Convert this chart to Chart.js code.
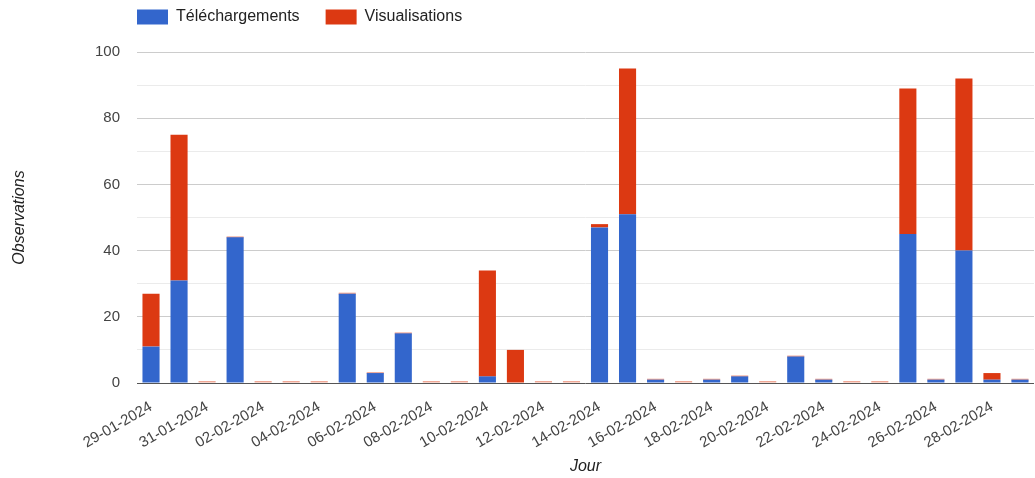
<!DOCTYPE html>
<html>
<head>
<meta charset="utf-8">
<script src="https://cdn.jsdelivr.net/npm/chart.js@4.4.1/dist/chart.umd.min.js"></script>
<style>
html,body{margin:0;padding:0;background:#fff;overflow:hidden;}
#wrap{width:1035px;height:478px;position:relative;}
</style>
</head>
<body>
<div id="wrap"><canvas id="c"></canvas></div>
<script>
const days = [
  '29-01-2024','30-01-2024','31-01-2024','01-02-2024','02-02-2024','03-02-2024','04-02-2024','05-02-2024',
  '06-02-2024','07-02-2024','08-02-2024','09-02-2024','10-02-2024','11-02-2024','12-02-2024','13-02-2024',
  '14-02-2024','15-02-2024','16-02-2024','17-02-2024','18-02-2024','19-02-2024','20-02-2024','21-02-2024',
  '22-02-2024','23-02-2024','24-02-2024','25-02-2024','26-02-2024','27-02-2024','28-02-2024','29-02-2024'
];
const telechargements = [11,31,0,44,0,0,0,27,3,15,0,0,2,0,0,0,47,51,1,0,1,2,0,8,1,0,0,45,1,40,1,1];
const visualisations  = [16,44,0,0,0,0,0,0,0,0,0,0,32,10,0,0,1,44,0,0,0,0,0,0,0,0,0,44,0,52,2,0];
const yTickLabels = [0,20,40,60,80,100];
const seriesNames = ['Téléchargements','Visualisations'];

const FONT = '"Liberation Sans", Arial, sans-serif';

const legendShift = {
  id: 'legendShift',
  afterLayout(chart) {
    const lg = chart.legend;
    if (!lg) return;
    const pad = lg.options.labels.padding;
    const dx = chart.chartArea.left - pad - lg.left;
    lg.left += dx; lg.right += dx;
    lg.top -= 17; lg.bottom -= 17;
  }
};

new Chart(document.getElementById('c'), {
  type: 'bar',
  data: {
    labels: days,
    datasets: [
      {
        label: seriesNames[0],
        data: telechargements,
        backgroundColor: '#3366cc',
        borderWidth: 0,
        categoryPercentage: 1,
        barPercentage: 0.61
      },
      {
        label: seriesNames[1],
        data: visualisations,
        backgroundColor: (ctx) => ctx.raw === 0 ? '#f0a896' : '#dc3912',
        borderWidth: 0,
        minBarLength: 2,
        categoryPercentage: 1,
        barPercentage: 0.61
      }
    ]
  },
  options: {
    responsive: true,
    maintainAspectRatio: false,
    animation: false,
    layout: { padding: { right: 1 } },
    plugins: {
      tooltip: { enabled: false },
      legend: {
        position: 'top',
        align: 'start',
        labels: {
          boxWidth: 31,
          boxHeight: 15,
          padding: 26,
          color: '#222',
          font: { family: FONT, size: 16 },
          generateLabels: (chart) => chart.data.datasets.map((ds, i) => ({
            text: ds.label,
            fillStyle: i === 0 ? '#3366cc' : '#dc3912',
            strokeStyle: i === 0 ? '#3366cc' : '#dc3912',
            lineWidth: 0,
            hidden: false,
            datasetIndex: i,
            fontColor: '#222'
          }))
        }
      }
    },
    scales: {
      x: {
        stacked: true,
        grid: { display: false, drawTicks: false },
        border: { display: false },
        ticks: {
          autoSkip: false,
          minRotation: 30,
          maxRotation: 30,
          padding: 15,
          color: '#444',
          font: { family: FONT, size: 15 },
          callback: (v, i) => (i % 2 === 0 ? days[i] : null)
        },
        title: {
          display: true,
          text: 'Jour',
          color: '#222',
          font: { family: FONT, size: 16, style: 'italic' },
          padding: { top: 0, bottom: 2 }
        },
        afterFit: (scale) => { scale.height = 95; scale.paddingRight = 0; }
      },
      y: {
        stacked: true,
        min: 0,
        max: 100,
        grid: {
          drawTicks: false,
          color: (ctx) => ctx.tick.value === 0 ? '#555555' : (ctx.tick.value % 20 === 0 ? '#cccccc' : '#ebebeb'),
          lineWidth: 1
        },
        border: { display: false },
        ticks: {
          stepSize: 10,
          padding: 17,
          color: '#444',
          font: { family: FONT, size: 15 },
          callback: (v) => (yTickLabels.includes(v) ? String(v) : '')
        },
        title: {
          display: true,
          text: 'Observations',
          color: '#222',
          font: { family: FONT, size: 16, style: 'italic' },
          padding: { top: 10, bottom: 0 }
        },
        afterFit: (scale) => { scale.width = 137; }
      }
    }
  },
  plugins: [legendShift]
});
</script>
</body>
</html>
